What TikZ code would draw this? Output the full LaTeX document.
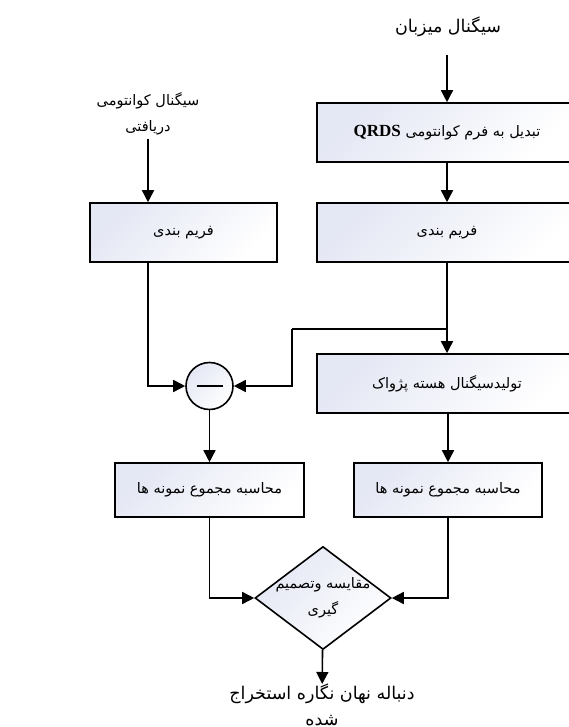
\documentclass[tikz,border=0pt]{standalone}
\usepackage{fontspec}
\setmainfont{Liberation Serif}
\newfontfamily\arabicfont[Script=Arabic]{DejaVu Sans}
\TeXXeTstate=1
\usepackage{tikz}
\usetikzlibrary{shapes.geometric,arrows.meta}
\definecolor{boxtint}{RGB}{228,231,244}
\newcommand{\rl}[1]{\beginR #1\endR}

\begin{document}
\begin{tikzpicture}[x=1pt,y=-1pt,
  fa/.style={font=\arabicfont\fontsize{14.5}{26}\selectfont,align=center,inner sep=0pt},
  big/.style={fa,font=\arabicfont\fontsize{17.5}{26}\selectfont},
  blk/.style={fa,draw,line width=1.6pt,top color=boxtint,bottom color=white,shading angle=45,
              minimum height=59pt},
  arr/.style={line width=1.6pt,-{Triangle[length=12pt,width=12pt]}},
  ln/.style={line width=1.6pt}]
\clip (0,0) rectangle (569,727);
%\draw[help lines] (0,0) grid[step=50] (569,727);

% right column
\node[big] (host) at (448,27) {\rl{سیگنال میزبان}};
\node[blk,minimum width=260pt] (qrds) at (447,132.5)
  {\rl{تبدیل به فرم کوانتومی \beginL{\rmfamily\bfseries\fontsize{17}{19}\selectfont QRDS}\endL}};
\node[blk,minimum width=260pt] (frmR) at (447,232.5) {\rl{فریم بندی}};
\node[blk,minimum width=260pt] (gen) at (447,383.5) {\rl{تولیدسیگنال هسته پژواک}};
\node[blk,minimum width=188pt,minimum height=54pt] (sumR) at (448,490) {\rl{محاسبه مجموع نمونه ها}};

% left column
\node[fa] (recv) at (148,113.5) {\rl{سیگنال کوانتومی}\\\rl{دریافتی}};
\node[blk,minimum width=187pt] (frmL) at (183.5,232.5) {\rl{فریم بندی}};
\node[draw,circle,line width=1.6pt,minimum size=47pt,inner sep=0pt,
      top color=boxtint,bottom color=white,shading angle=45] (sub) at (209.5,386) {};
\draw[ln] (sub.center) +(-13,0) -- +(13,0);
\node[blk,minimum width=189pt,minimum height=54pt] (sumL) at (209.5,490) {\rl{محاسبه مجموع نمونه ها}};

% decision
\node[diamond,draw,line width=1.6pt,minimum width=136pt,minimum height=103pt,inner sep=0pt,
      top color=boxtint,bottom color=white,shading angle=45,
      label={[fa]center:\rl{مقایسه وتصمیم}\\\rl{گیری}}] (cmp) at (323,598) {};
\node[big,anchor=north] (out) at (322,684) {\rl{دنباله نهان نگاره استخراج}\\\rl{شده}};

\coordinate (tap) at (447,329);
\coordinate (bend) at (292,329);

\draw[arr,shorten <=18pt] (host.south -| qrds.north) -- (qrds.north);
\draw[arr] (qrds) -- (frmR);
\draw[arr] (frmR) -- (gen);
\draw[ln] (tap) -- (bend);
\draw[arr] (bend) |- (sub.east);
\draw[arr,shorten <=4pt] (recv.south) -- (recv.south |- frmL.north);
\draw[arr] (recv.south |- frmL.south) |- (sub.west);
\draw[arr] (sub) -- (sumL);
\draw[arr] (gen.south -| sumR.north) -- (sumR.north);
\draw[arr] (sumL) |- (cmp.west);
\draw[arr] (sumR) |- (cmp.east);
\draw[arr] (cmp) -- (out);
\end{tikzpicture}
\end{document}
